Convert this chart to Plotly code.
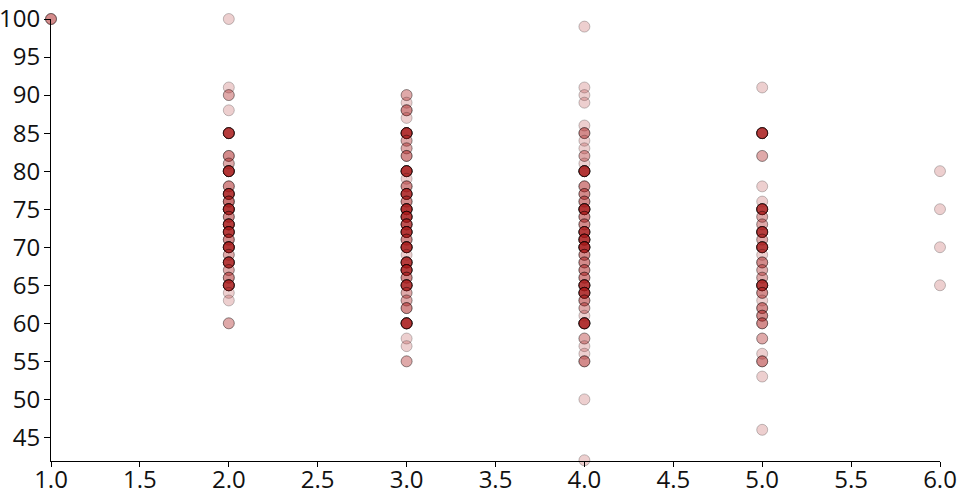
import plotly.graph_objects as go

# value -> count of overlapping observations, per x group
group_x = [1, 2, 3, 4, 5, 6]
values_1 = [100]
counts_1 = [3]
values_2 = [100, 91, 90, 88, 85, 82, 81, 80, 78, 77, 76, 75, 74, 73, 72, 71, 70, 69, 68, 67, 66, 65, 64, 63, 60]
counts_2 = [1, 1, 2, 1, 8, 3, 2, 9, 3, 8, 4, 9, 3, 8, 8, 3, 9, 2, 8, 2, 3, 8, 1, 1, 2]
values_3 = [90, 89, 88, 87, 85, 84, 83, 82, 80, 79, 78, 77, 76, 75, 74, 73, 72, 71, 70, 69, 68, 67, 66, 65, 64, 63, 62, 60, 58, 57, 55]
counts_3 = [2, 1, 3, 1, 9, 2, 2, 3, 9, 1, 3, 8, 3, 9, 8, 6, 9, 3, 9, 1, 8, 8, 3, 8, 2, 2, 3, 9, 1, 1, 2]
values_4 = [99, 91, 90, 89, 86, 85, 84, 83, 82, 81, 80, 78, 77, 76, 75, 74, 73, 72, 71, 70, 69, 68, 67, 66, 65, 64, 63, 62, 61, 60, 58, 57, 56, 55, 50, 42]
counts_4 = [1, 1, 1, 1, 1, 3, 1, 1, 2, 1, 9, 3, 3, 3, 9, 3, 3, 8, 8, 9, 3, 3, 3, 3, 8, 8, 3, 2, 1, 9, 2, 1, 1, 3, 1, 1]
values_5 = [91, 85, 82, 78, 76, 75, 74, 73, 72, 71, 70, 69, 68, 67, 66, 65, 64, 63, 62, 61, 60, 58, 56, 55, 53, 46]
counts_5 = [1, 8, 2, 1, 1, 8, 2, 2, 8, 2, 8, 1, 3, 2, 2, 8, 3, 1, 3, 3, 3, 2, 1, 3, 1, 1]
values_6 = [80, 75, 70, 65]
counts_6 = [1, 1, 1, 1]

groups = [(1, values_1, counts_1), (2, values_2, counts_2), (3, values_3, counts_3),
          (4, values_4, counts_4), (5, values_5, counts_5), (6, values_6, counts_6)]

xs, ys = [], []
for gx, vals, cnts in groups:
    for v, c in zip(vals, cnts):
        for _ in range(c):
            xs.append(gx)
            ys.append(v)

fig = go.Figure(go.Scatter(
    x=xs, y=ys, mode="markers",
    marker=dict(size=11, color="rgba(170,30,30,0.21)",
                line=dict(color="rgba(0,0,0,0.23)", width=1)),
    cliponaxis=False, hoverinfo="skip",
))

fig.update_layout(
    width=960, height=500,
    margin=dict(l=51, r=20, t=19, b=39, autoexpand=False),
    plot_bgcolor="white", paper_bgcolor="white",
    font=dict(family="Open Sans", size=24, color="#111"),
    showlegend=False,
    xaxis=dict(range=[1, 6], tickmode="linear", tick0=1, dtick=0.5, tickformat=".1f",
               showgrid=False, zeroline=False, showline=True, linecolor="black", linewidth=1,
               ticks="outside", ticklen=5, tickcolor="black", automargin=False, ticklabelstandoff=-8),
    yaxis=dict(range=[41.9, 100], tickmode="linear", tick0=45, dtick=5,
               showgrid=False, zeroline=False, showline=True, linecolor="black", linewidth=1,
               ticks="outside", ticklen=6, tickcolor="black", automargin=False, ticklabelstandoff=-1),
)

fig.write_html("out.html", config={"displayModeBar": False},
               post_script="document.body.style.margin='0';document.body.style.overflow='hidden';")
